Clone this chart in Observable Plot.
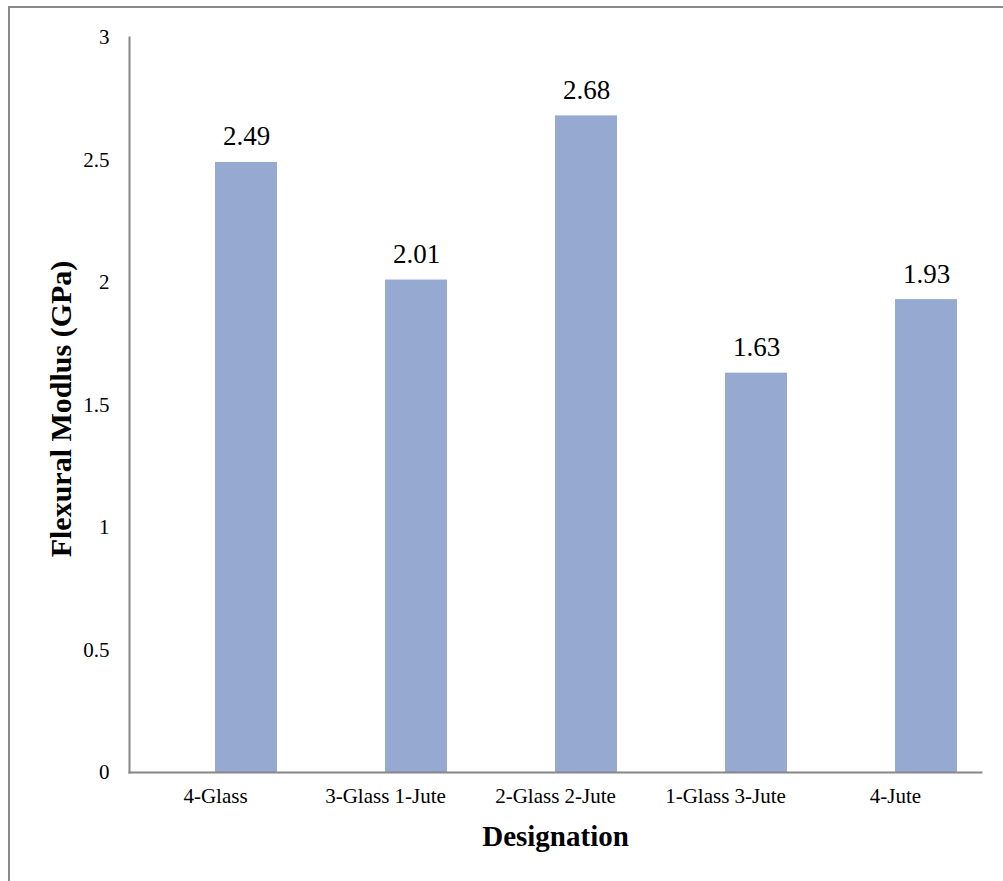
<!DOCTYPE html>
<html>
<head>
<meta charset="utf-8">
<script src="https://cdn.jsdelivr.net/npm/d3@7"></script>
<script src="https://cdn.jsdelivr.net/npm/@observablehq/plot@0.6"></script>
<style>
  html, body { margin: 0; padding: 0; background: #fff; }
  body { width: 1003px; height: 881px; position: relative; overflow: hidden; }
  #sheet {
    position: absolute; left: 8px; top: 6px; width: 1100px; height: 1000px;
    border-left: 2px solid #8a8a8a; border-top: 2px solid #8a8a8a;
  }
  #chart { position: absolute; left: 0; top: 0; }
  #chart svg, #chart svg text { font-family: "Liberation Serif", "Times New Roman", serif; }
</style>
</head>
<body>
<div id="sheet"></div>
<div id="chart"></div>
<script>
// Flexural modulus of the glass/jute hybrid laminates
const designations = ["4-Glass", "3-Glass 1-Jute", "2-Glass 2-Jute", "1-Glass 3-Jute", "4-Jute"];
const modulus = [2.49, 2.01, 2.68, 1.63, 1.93];
const yTicks = [0, 0.5, 1, 1.5, 2, 2.5, 3];
const yTitle = "Flexural Modlus (GPa)";
const xTitle = "Designation";

const rows = designations.map((d, i) => ({designation: d, value: modulus[i]}));

const serif = "'Liberation Serif', 'Times New Roman', serif";
const barColor = "#95a9d1";
const axisGray = "#868686";

const chart = Plot.plot({
  width: 1003,
  height: 881,
  marginLeft: 129,
  marginRight: 22,
  marginTop: 37,
  marginBottom: 109,
  style: {fontFamily: serif, color: "#000", background: "transparent"},
  x: {domain: designations, paddingInner: 0.636, paddingOuter: 0.318, label: null},
  y: {domain: [0, 3], label: null},
  marks: [
    // bars sit just right of each category centre (empty second series slot)
    Plot.barY(rows, {x: "designation", y: "value", fill: barColor, dx: 31}),
    Plot.text(rows, {
      x: "designation", y: "value", text: d => d.value.toFixed(2),
      dx: 31, dy: -17, lineAnchor: "bottom", fontSize: 27, fontFamily: serif, fill: "#000"
    }),
    Plot.axisY({ticks: yTicks, tickSize: 0, tickPadding: 20, fontSize: 21, fontFamily: serif, label: null, tickFormat: d => String(d)}),
    Plot.axisX({tickSize: 0, tickPadding: 16, fontSize: 21, fontFamily: serif, label: null}),
    Plot.frame({anchor: "left", stroke: axisGray, strokeWidth: 2}),
    Plot.frame({anchor: "bottom", stroke: axisGray, strokeWidth: 2}),
    Plot.text([yTitle], {
      frameAnchor: "left", textAnchor: "middle", rotate: -90, dx: -68, dy: 4,
      fontSize: 30, fontWeight: "bold", fontFamily: serif, fill: "#000", text: d => d
    }),
    Plot.text([xTitle], {
      frameAnchor: "bottom", dy: 64, lineAnchor: "middle",
      fontSize: 29, fontWeight: "bold", fontFamily: serif, fill: "#000", text: d => d
    })
  ]
});

document.getElementById("chart").appendChild(chart);
</script>
</body>
</html>
